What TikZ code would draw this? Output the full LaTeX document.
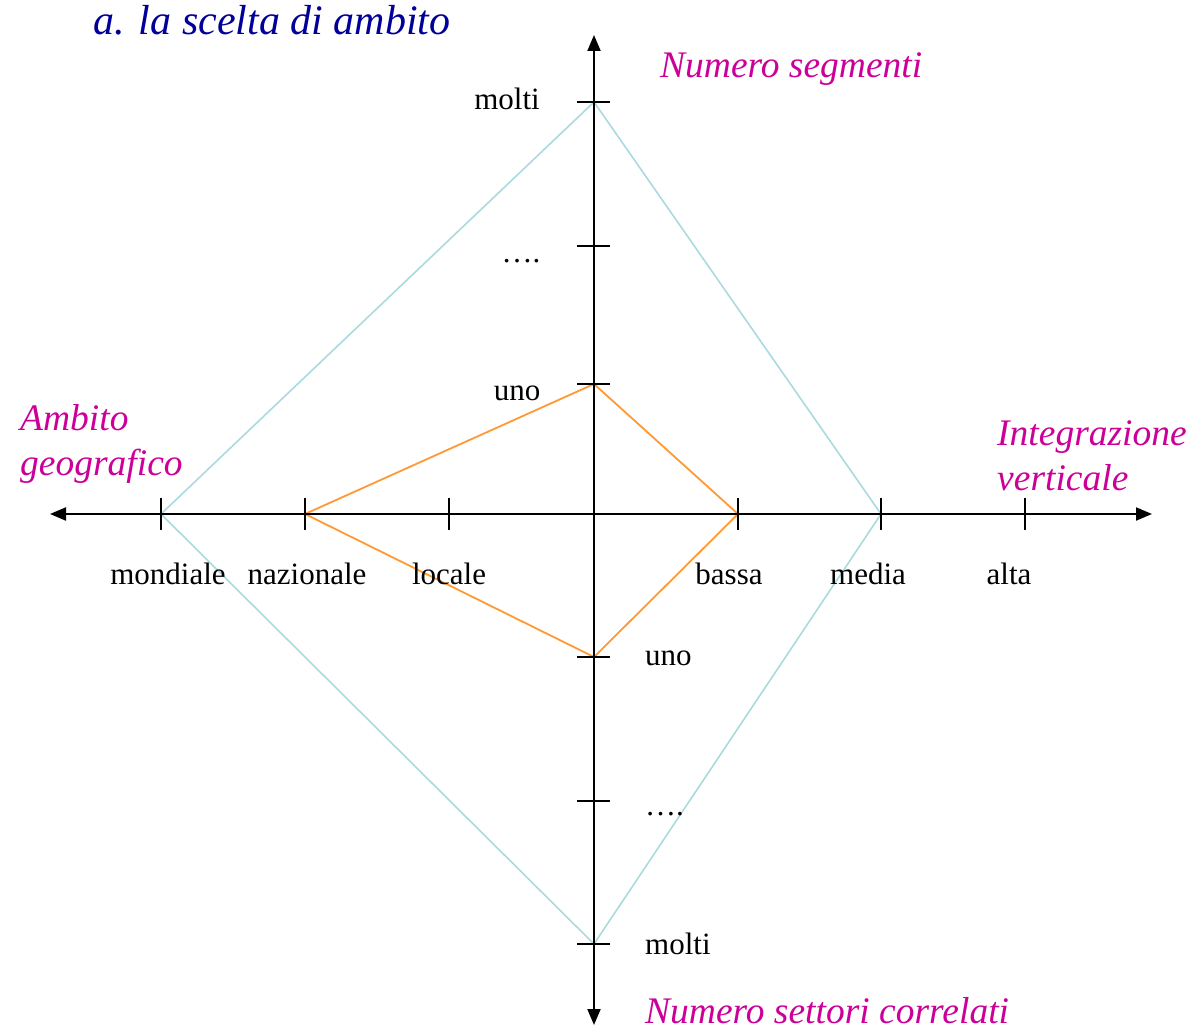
\documentclass[tikz,border=0pt]{standalone}
\usepackage{fontspec}
\setmainfont{Liberation Serif}
\usetikzlibrary{arrows.meta}
\definecolor{titleblue}{RGB}{0,0,153}
\definecolor{axmag}{RGB}{204,0,153}
\definecolor{lcyan}{RGB}{170,218,222}
\definecolor{lorange}{RGB}{255,153,51}
\tikzset{
  axis/.style={line width=2pt,-{Triangle[length=16pt,width=13pt]}},
  tickmark/.style={line width=2pt},
  lbl/.style={inner sep=0pt,anchor=base,font=\fontsize{31}{36}\selectfont},
  axlbl/.style={inner sep=0pt,anchor=base west,text=axmag,font=\fontsize{37.5}{45}\selectfont\itshape},
  polyc/.style={draw=lcyan,line width=1.6pt,line join=round},
  polyo/.style={draw=lorange,line width=1.8pt,line join=round}
}
\begin{document}
\begin{tikzpicture}[x=1pt,y=-1pt]
\useasboundingbox (0,0) rectangle (1203,1030);
% centre and axis ends
\coordinate (O) at (594,514);
\coordinate (L) at (50,514);
\coordinate (R) at (1152,514);
\coordinate (T) at (594,35);
\coordinate (B) at (594,1025);
% ticks horizontal
\coordinate (h1) at (161,514);
\coordinate (h2) at (305,514);
\coordinate (h3) at (449,514);
\coordinate (h4) at (738,514);
\coordinate (h5) at (881,514);
\coordinate (h6) at (1025,514);
% ticks vertical
\coordinate (v1) at (594,102);
\coordinate (v2) at (594,246);
\coordinate (v3) at (594,384);
\coordinate (v4) at (594,657);
\coordinate (v5) at (594,801);
\coordinate (v6) at (594,944);
% polygons
\draw[polyc] (v1) -- (h5) -- (v6) -- (h1) -- cycle;
\draw[polyo] (v3) -- (h4) -- (v4) -- (h2) -- cycle;
% axes
\draw[axis] (O) -- (L);
\draw[axis] (O) -- (R);
\draw[axis] (O) -- (T);
\draw[axis] (O) -- (B);
\foreach \c in {h1,h2,h3,h4,h5,h6}
  \draw[tickmark] ([yshift=-16pt]\c) -- ([yshift=16pt]\c);
\foreach \c in {v1,v2,v3,v4,v5,v6}
  \draw[tickmark] ([xshift=-17pt]\c) -- ([xshift=16pt]\c);
% labels
\node[inner sep=0pt,anchor=base,text=titleblue,font=\fontsize{42}{50}\selectfont\itshape] (title) at (272,35) {a. la scelta di ambito};
\node[lbl] (lv1) at (507,110) {molti};
\node[lbl] (lv2) at (521,262) {….};
\node[lbl] (lv3) at (517,400) {uno};
\node[lbl,anchor=base west] (lv4) at (645,665) {uno};
\node[lbl,anchor=base west] (lv5) at (645,815) {….};
\node[lbl,anchor=base west] (lv6) at (645,954) {molti};
\node[lbl] (lh1) at (168,584) {mondiale};
\node[lbl] (lh2) at (307,584) {nazionale};
\node[lbl] (lh3) at (449,584) {locale};
\node[lbl] (lh4) at (729,584) {bassa};
\node[lbl] (lh5) at (868,584) {media};
\node[lbl] (lh6) at (1009,584) {alta};
\node[axlbl] (ns) at (660,78) {Numero segmenti};
\node[axlbl] (ag1) at (20,430) {Ambito};
\node[axlbl] (ag2) at (20,475) {geografico};
\node[axlbl] (iv1) at (997,445) {Integrazione};
\node[axlbl] (iv2) at (997,490) {verticale};
\node[axlbl] (nsc) at (645,1023) {Numero settori correlati};
\end{tikzpicture}
\end{document}
